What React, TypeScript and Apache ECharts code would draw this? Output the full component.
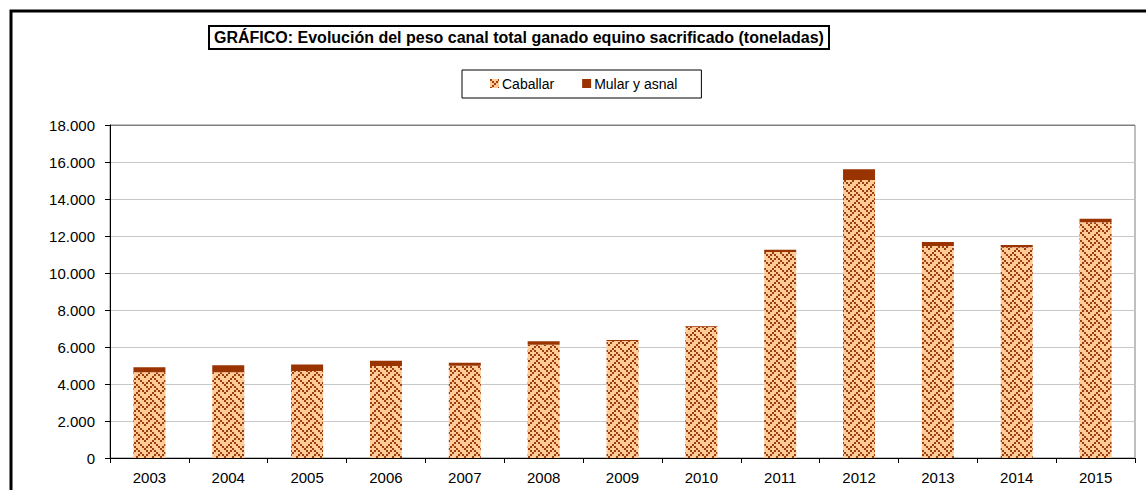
import React, { useEffect, useRef } from "react";
import * as echarts from "echarts";

const years = ["2003", "2004", "2005", "2006", "2007", "2008", "2009", "2010", "2011", "2012", "2013", "2014", "2015"];
const caballar = [4630, 4640, 4700, 4970, 4980, 6120, 6320, 7090, 11130, 15030, 11460, 11390, 12740];
const mularYAsnal = [270, 370, 360, 290, 170, 190, 60, 45, 125, 575, 215, 125, 195];
const seriesNames = ["Caballar", "Mular y asnal"];
const titleText = "GRÁFICO: Evolución del peso canal total ganado equino sacrificado (toneladas)";

const FONT = '"Liberation Sans", Arial, sans-serif';

// 8x8 "weave" bitmap, drawn at 2px per cell
const WEAVE = ["10001000", "01010100", "00100010", "01000101", "10001000", "00010100", "00100010", "01010001"];

function makePattern(): HTMLCanvasElement {
  const c = document.createElement("canvas");
  c.width = 16;
  c.height = 16;
  const ctx = c.getContext("2d")!;
  ctx.fillStyle = "#FFCC99";
  ctx.fillRect(0, 0, 16, 16);
  ctx.fillStyle = "#A03D0C";
  for (let r = 0; r < 8; r++) {
    for (let col = 0; col < 8; col++) {
      if (WEAVE[r][col] === "1") ctx.fillRect(col * 2, r * 2, 2, 2);
    }
  }
  return c;
}

function fmt(v: number): string {
  return String(v).replace(/\B(?=(\d{3})+(?!\d))/g, ".");
}

export default function App() {
  const ref = useRef<HTMLDivElement>(null);
  useEffect(() => {
    document.body.style.margin = "0";
    const chart = echarts.init(ref.current!, null, { renderer: "svg" });
    const pat = makePattern();
    const splitColors = ["#c8c8c8", "#c8c8c8", "#c8c8c8", "#c8c8c8", "#c8c8c8", "#c8c8c8", "#c8c8c8", "#c8c8c8", "#c8c8c8", "#808080"];
    chart.setOption({
      animation: false,
      backgroundColor: "#ffffff",
      textStyle: { fontFamily: FONT },
      title: {
        text: titleText,
        left: 209,
        top: 26,
        padding: [3, 5, 3, 5],
        borderColor: "#000",
        borderWidth: 2,
        textStyle: { fontFamily: FONT, fontSize: 16, fontWeight: "bold", color: "#000", lineHeight: 17 },
      },
      legend: {
        left: 462,
        top: 70,
        padding: [6, 24, 7, 28],
        borderColor: "#000",
        borderWidth: 1,
        backgroundColor: "#fff",
        itemWidth: 9,
        itemHeight: 9,
        itemGap: 28,
        icon: "rect",
        textStyle: { fontFamily: FONT, fontSize: 14, color: "#000", lineHeight: 15, padding: [0, 0, 0, -2] },
        data: seriesNames,
      },
      grid: {
        left: 110,
        right: 11,
        top: 125,
        bottom: 32,
        show: true,
        borderColor: "#808080",
        borderWidth: 1,
      },
      xAxis: {
        type: "category",
        data: years,
        axisLine: { lineStyle: { color: "#000", width: 1 } },
        axisTick: { show: true, length: 5, inside: false, alignWithLabel: false, lineStyle: { color: "#000" } },
        axisLabel: { fontFamily: FONT, fontSize: 15, color: "#000", margin: 12 },
      },
      yAxis: {
        type: "value",
        min: 0,
        max: 18000,
        interval: 2000,
        axisLine: { show: true, lineStyle: { color: "#000", width: 1 } },
        axisTick: { show: true, length: 5, lineStyle: { color: "#000" } },
        axisLabel: { fontFamily: FONT, fontSize: 15, color: "#000", margin: 15, formatter: (v: number) => fmt(v) },
        splitLine: { show: true, lineStyle: { color: splitColors, width: 1 } },
      },
      series: [
        {
          name: seriesNames[0],
          type: "bar",
          stack: "total",
          barWidth: 32,
          data: caballar,
          itemStyle: {
            color: { image: pat, repeat: "repeat", imageWidth: 16, imageHeight: 16 },
          },
        },
        {
          name: seriesNames[1],
          type: "bar",
          stack: "total",
          barWidth: 32,
          data: mularYAsnal,
          itemStyle: { color: "#993300" },
        },
      ],
      graphic: [
        {
          type: "rect",
          shape: { x: 11, y: 11, width: 1200, height: 600 },
          style: { fill: "none", stroke: "#000", lineWidth: 3 },
          silent: true,
          z: 100,
        },
      ],
    });
    return () => chart.dispose();
  }, []);
  return <div ref={ref} style={{ width: 1146, height: 490 }} />;
}
